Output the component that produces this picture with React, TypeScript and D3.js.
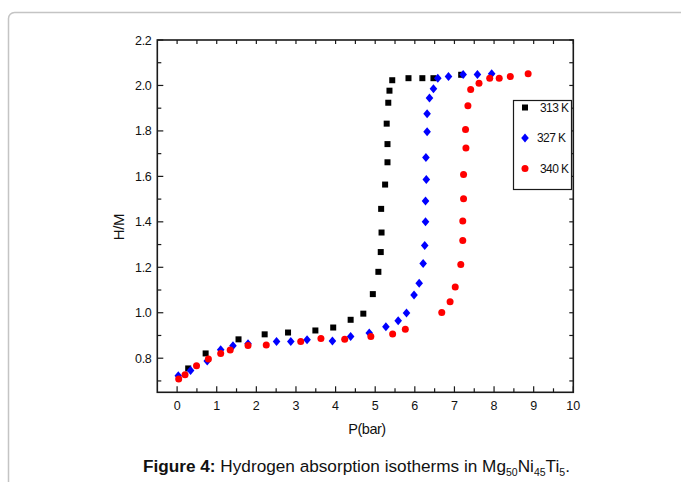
import React, { useEffect, useRef } from "react";
import * as d3 from "d3";

const seriesNames = ["313 K", "327 K", "340 K"];
const seriesColors = ["#000000", "#0000ff", "#ff0000"];
const seriesShapes = ["square", "diamond", "circle"];

const p313 = [0.28, 0.72, 1.55, 2.21, 2.8, 3.49, 3.94, 4.38, 4.7, 4.94, 5.08, 5.14, 5.16, 5.15, 5.25, 5.31, 5.31, 5.29, 5.33, 5.36, 5.43, 5.84, 6.19, 6.47, 7.17];
const hm313 = [0.755, 0.821, 0.883, 0.905, 0.913, 0.922, 0.935, 0.969, 0.996, 1.082, 1.18, 1.267, 1.353, 1.457, 1.564, 1.662, 1.742, 1.832, 1.924, 1.977, 2.023, 2.032, 2.032, 2.032, 2.047];

const p327 = [0.03, 0.34, 0.76, 1.1, 1.41, 1.79, 2.51, 2.87, 3.28, 3.92, 4.38, 4.85, 5.27, 5.58, 5.79, 5.98, 6.11, 6.21, 6.25, 6.27, 6.27, 6.29, 6.28, 6.31, 6.31, 6.37, 6.47, 6.58, 6.85, 7.22, 7.58, 7.94];
const hm327 = [0.723, 0.746, 0.788, 0.837, 0.855, 0.864, 0.873, 0.873, 0.881, 0.876, 0.896, 0.911, 0.938, 0.965, 0.999, 1.078, 1.13, 1.217, 1.296, 1.4, 1.492, 1.586, 1.683, 1.796, 1.876, 1.945, 1.985, 2.032, 2.039, 2.048, 2.048, 2.051];

const p340 = [0.04, 0.2, 0.49, 0.79, 1.1, 1.34, 1.79, 2.25, 3.12, 3.63, 4.23, 4.89, 5.44, 5.76, 6.68, 6.89, 7.02, 7.16, 7.21, 7.21, 7.23, 7.23, 7.29, 7.28, 7.34, 7.41, 7.62, 7.89, 8.13, 8.41, 8.86];
const hm340 = [0.708, 0.727, 0.767, 0.796, 0.821, 0.836, 0.856, 0.858, 0.874, 0.887, 0.883, 0.896, 0.906, 0.927, 1.001, 1.048, 1.113, 1.212, 1.318, 1.404, 1.502, 1.608, 1.725, 1.806, 1.911, 1.982, 2.01, 2.032, 2.032, 2.039, 2.052];

const xTickLabels = [0, 1, 2, 3, 4, 5, 6, 7, 8, 9, 10];
const yTickLabels = [0.8, 1.0, 1.2, 1.4, 1.6, 1.8, 2.0, 2.2];

const xLabel = "P(bar)";
const yLabel = "H/M";

export default function App() {
  const ref = useRef<SVGSVGElement>(null);

  useEffect(() => {
    const svg = d3.select(ref.current);
    svg.selectAll("*").remove();

    const left = 157.3, right = 573.3, top = 40, bottom = 392.3;
    const x = d3.scaleLinear().domain([-0.5, 10]).range([left, right]);
    const y = d3.scaleLinear().domain([0.65, 2.2]).range([bottom, top]);
    const font = "'Liberation Sans', Arial, sans-serif";

    // outer frame
    svg.append("rect")
      .attr("x", 8.5).attr("y", 12.5).attr("width", 720).attr("height", 520)
      .attr("rx", 6).attr("fill", "none").attr("stroke", "#c4c4c4").attr("stroke-width", 1.5);

    const axisColor = "#1a1a1a";
    const g = svg.append("g");

    // ticks
    const xMinor = d3.range(0, 10.01, 0.5);
    xMinor.forEach((v) => {
      const major = Math.abs(v - Math.round(v)) < 1e-6;
      const len = major ? 6 : 4;
      g.append("line").attr("x1", x(v)).attr("x2", x(v)).attr("y1", bottom).attr("y2", bottom - len)
        .attr("stroke", axisColor).attr("stroke-width", 1.2);
      g.append("line").attr("x1", x(v)).attr("x2", x(v)).attr("y1", top).attr("y2", top + 4)
        .attr("stroke", axisColor).attr("stroke-width", 1.2);
    });

    const yMinor = d3.range(0.7, 2.2001, 0.1);
    yMinor.forEach((v) => {
      const major = Math.abs(v * 5 - Math.round(v * 5)) < 1e-6;
      const len = major ? 6 : 4;
      g.append("line").attr("x1", left).attr("x2", left + len).attr("y1", y(v)).attr("y2", y(v))
        .attr("stroke", axisColor).attr("stroke-width", 1.2);
      g.append("line").attr("x1", right).attr("x2", right - 4).attr("y1", y(v)).attr("y2", y(v))
        .attr("stroke", axisColor).attr("stroke-width", 1.2);
    });

    // axis frame
    g.append("rect").attr("x", left).attr("y", top).attr("width", right - left).attr("height", bottom - top)
      .attr("fill", "none").attr("stroke", axisColor).attr("stroke-width", 1.6);

    // tick labels
    xTickLabels.forEach((v) => {
      g.append("text").attr("x", x(v)).attr("y", bottom + 18).attr("text-anchor", "middle")
        .attr("font-family", font).attr("font-size", 12.5).attr("fill", "#111").text(String(v));
    });
    yTickLabels.forEach((v) => {
      g.append("text").attr("x", left - 6).attr("y", y(v) + 4.5).attr("text-anchor", "end")
        .attr("font-family", font).attr("font-size", 12.5).attr("letter-spacing", -0.4).attr("fill", "#111").text(v.toFixed(1));
    });

    // axis labels
    g.append("text").attr("x", 367).attr("y", 434).attr("text-anchor", "middle")
      .attr("font-family", font).attr("font-size", 14.5).attr("letter-spacing", -0.5).attr("fill", "#111").text(xLabel);
    g.append("text").attr("transform", `translate(124,227) rotate(-90)`).attr("text-anchor", "middle")
      .attr("font-family", font).attr("font-size", 15).attr("letter-spacing", -0.3).attr("fill", "#111").text(yLabel);

    const drawMarker = (sel: any, shape: string, cx: number, cy: number, color: string) => {
      if (shape === "square") {
        sel.append("rect").attr("x", cx - 3).attr("y", cy - 3).attr("width", 6).attr("height", 6).attr("fill", color);
      } else if (shape === "diamond") {
        sel.append("path").attr("d", `M${cx},${cy - 4.5}L${cx + 3.8},${cy}L${cx},${cy + 4.5}L${cx - 3.8},${cy}Z`).attr("fill", color);
      } else {
        sel.append("circle").attr("cx", cx).attr("cy", cy).attr("r", 3.5).attr("fill", color);
      }
    };

    const data = [
      { xs: p313, ys: hm313 },
      { xs: p327, ys: hm327 },
      { xs: p340, ys: hm340 },
    ];
    data.forEach((s, i) => {
      const sg = svg.append("g");
      s.xs.forEach((pv, j) => drawMarker(sg, seriesShapes[i], x(pv), y(s.ys[j]), seriesColors[i]));
    });

    // legend
    const lg = svg.append("g");
    lg.append("rect").attr("x", 513.5).attr("y", 100.5).attr("width", 58).attr("height", 89)
      .attr("fill", "#fff").attr("stroke", axisColor).attr("stroke-width", 1.2);
    seriesNames.forEach((name, i) => {
      const cy = 107.5 + i * 30.5;
      drawMarker(lg, seriesShapes[i], 525, cy, seriesColors[i]);
      lg.append("text").attr("x", i === 1 ? 537 : 540).attr("y", cy + 4.3)
        .attr("font-family", font).attr("font-size", 12).attr("letter-spacing", -0.6).attr("fill", "#111").text(name);
    });

    // caption
    const cap = svg.append("text").attr("x", 143).attr("y", 472).attr("font-family", font).attr("font-size", 17.2).attr("fill", "#111");
    cap.append("tspan").attr("font-weight", "bold").text("Figure 4:");
    cap.append("tspan").text(" Hydrogen absorption isotherms in Mg");
    cap.append("tspan").attr("font-size", 10.5).attr("dy", 4).text("50");
    cap.append("tspan").attr("dy", -4).text("Ni");
    cap.append("tspan").attr("font-size", 10.5).attr("dy", 4).text("45");
    cap.append("tspan").attr("dy", -4).text("Ti");
    cap.append("tspan").attr("font-size", 10.5).attr("dy", 4).text("5");
    cap.append("tspan").attr("dy", -4).text(".");
  }, []);

  return (
    <svg ref={ref} width={681} height={482} style={{ position: "absolute", left: 0, top: 0, background: "#fff" }} />
  );
}
